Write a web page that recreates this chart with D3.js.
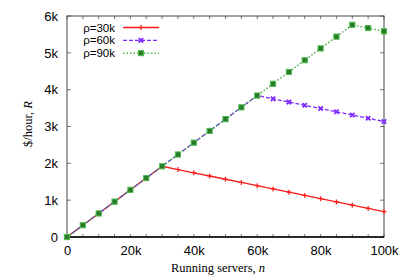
<!DOCTYPE html>
<html>
<head>
<meta charset="utf-8">
<script src="https://cdn.jsdelivr.net/npm/d3@7"></script>
<style>
  body { margin: 0; background: #fff; }
  .tick text { font-family: "Liberation Sans", Arial, sans-serif; font-size: 13px; fill: #000; }
  .lbl { font-family: "Liberation Serif", "Times New Roman", serif; font-size: 12.5px; fill: #000; }
  .leg { font-family: "Liberation Sans", Arial, sans-serif; font-size: 11.5px; fill: #000; }
</style>
</head>
<body>
<div id="chart"></div>
<script>
// running servers n
var servers = [0, 5000, 10000, 15000, 20000, 25000, 30000, 35000, 40000, 45000, 50000,
  55000, 60000, 65000, 70000, 75000, 80000, 85000, 90000, 95000, 100000];

// revenue $/hour per rho
var rho30 = [0, 320, 640, 960, 1280, 1600, 1920, 1832, 1744, 1656, 1568,
  1480, 1392, 1304, 1216, 1128, 1040, 952, 864, 776, 688];
var rho60 = [0, 320, 640, 960, 1280, 1600, 1920, 2240, 2560, 2880, 3200,
  3520, 3840, 3752, 3664, 3576, 3488, 3400, 3312, 3224, 3136];
var rho90 = [0, 320, 640, 960, 1280, 1600, 1920, 2240, 2560, 2880, 3200,
  3520, 3840, 4160, 4480, 4800, 5120, 5440, 5760, 5672, 5584];

var seriesNames = ["ρ=30k", "ρ=60k", "ρ=90k"];
var xTicks = [0, 20000, 40000, 60000, 80000, 100000];
var xTickLabels = ["0", "20k", "40k", "60k", "80k", "100k"];
var yTicks = [0, 1000, 2000, 3000, 4000, 5000, 6000];
var yTickLabels = ["0", "1k", "2k", "3k", "4k", "5k", "6k"];

var width = 399, height = 279;
var margin = { left: 67, right: 15, top: 16, bottom: 42 };
var w = width - margin.left - margin.right;
var h = height - margin.top - margin.bottom;

var colors = ["#ff1a1a", "#7f2bff", "#2fa32f"];
var dashes = [null, "4,2", "1.5,2"];

var svg = d3.select("#chart").append("svg")
  .attr("width", width).attr("height", height);
var g = svg.append("g").attr("transform", `translate(${margin.left},${margin.top})`);

var x = d3.scaleLinear().domain([0, 100000]).range([0, w]);
var y = d3.scaleLinear().domain([0, 6000]).range([h, 0]);

/* axes */
var minor = d3.range(0, 100001, 5000);
g.append("g").attr("transform", `translate(0,${h})`)
  .call(d3.axisBottom(x).tickValues(xTicks).tickFormat((d, i) => xTickLabels[i]).tickSizeInner(0).tickPadding(9))
  .call(a => a.select(".domain").remove());
g.append("g")
  .call(d3.axisLeft(y).tickValues(yTicks).tickFormat((d, i) => yTickLabels[i]).tickSizeInner(0).tickPadding(9))
  .call(a => a.select(".domain").remove());

// inward tick marks
var tk = g.append("g").attr("stroke", "#555").attr("stroke-width", 0.8);
minor.forEach(function (v) {
  tk.append("line").attr("x1", x(v)).attr("x2", x(v)).attr("y1", h).attr("y2", h - 3);
  tk.append("line").attr("x1", x(v)).attr("x2", x(v)).attr("y1", 0).attr("y2", 3);
});
yTicks.forEach(function (v) {
  tk.append("line").attr("x1", 0).attr("x2", 4).attr("y1", y(v)).attr("y2", y(v));
  tk.append("line").attr("x1", w).attr("x2", w - 4).attr("y1", y(v)).attr("y2", y(v));
});

// border
g.append("rect").attr("width", w).attr("height", h)
  .attr("fill", "none").attr("stroke", "#444").attr("stroke-width", 1);
g.append("line").attr("x1", 0).attr("x2", w).attr("y1", h).attr("y2", h)
  .attr("stroke", "#000").attr("stroke-width", 1.4);

/* lines */
var all = [rho30, rho60, rho90];
var line = d3.line().x((d, i) => x(servers[i])).y(d => y(d));

function marker(sel, k, cx, cy) {
  if (k === 0) {
    sel.append("path").attr("d", `M${cx - 2.5},${cy}H${cx + 2.5}M${cx},${cy - 2.5}V${cy + 2.5}`)
      .attr("stroke", colors[0]).attr("stroke-width", 1.2);
  } else if (k === 1) {
    sel.append("path").attr("d", `M${cx - 2.2},${cy - 2.2}L${cx + 2.2},${cy + 2.2}M${cx - 2.2},${cy + 2.2}L${cx + 2.2},${cy - 2.2}`)
      .attr("stroke", colors[1]).attr("stroke-width", 1.8);
  } else {
    sel.append("rect").attr("x", cx - 2.6).attr("y", cy - 2.6).attr("width", 5.2).attr("height", 5.2)
      .attr("fill", "#2a7a2a").attr("stroke", "#4fbf4f").attr("stroke-width", 1);
  }
}

all.forEach(function (vals, k) {
  g.append("path").attr("d", line(vals))
    .attr("fill", "none").attr("stroke", colors[k]).attr("stroke-width", 1.3)
    .attr("stroke-dasharray", dashes[k]);
  var mg = g.append("g");
  vals.forEach(function (v, i) { marker(mg, k, x(servers[i]), y(v)); });
});

/* legend */
var leg = g.append("g");
seriesNames.forEach(function (name, k) {
  var ly = 11.5 + k * 12.8;
  leg.append("text").attr("class", "leg").attr("x", 48).attr("y", ly + 4)
    .attr("text-anchor", "end").text(name);
  leg.append("line").attr("x1", 56).attr("x2", 92).attr("y1", ly).attr("y2", ly)
    .attr("stroke", colors[k]).attr("stroke-width", 1.3).attr("stroke-dasharray", dashes[k]);
  marker(leg, k, 74, ly);
});

/* axis labels */
var xl = svg.append("text").attr("class", "lbl").attr("x", 218).attr("y", 272).attr("text-anchor", "middle");
xl.append("tspan").text("Running servers, ");
xl.append("tspan").attr("font-style", "italic").text("n");

var yl = svg.append("text").attr("class", "lbl").attr("text-anchor", "middle")
  .attr("transform", "translate(32,124) rotate(-90)");
yl.append("tspan").text("$/hour, ");
yl.append("tspan").attr("font-style", "italic").text("R");
</script>
</body>
</html>
